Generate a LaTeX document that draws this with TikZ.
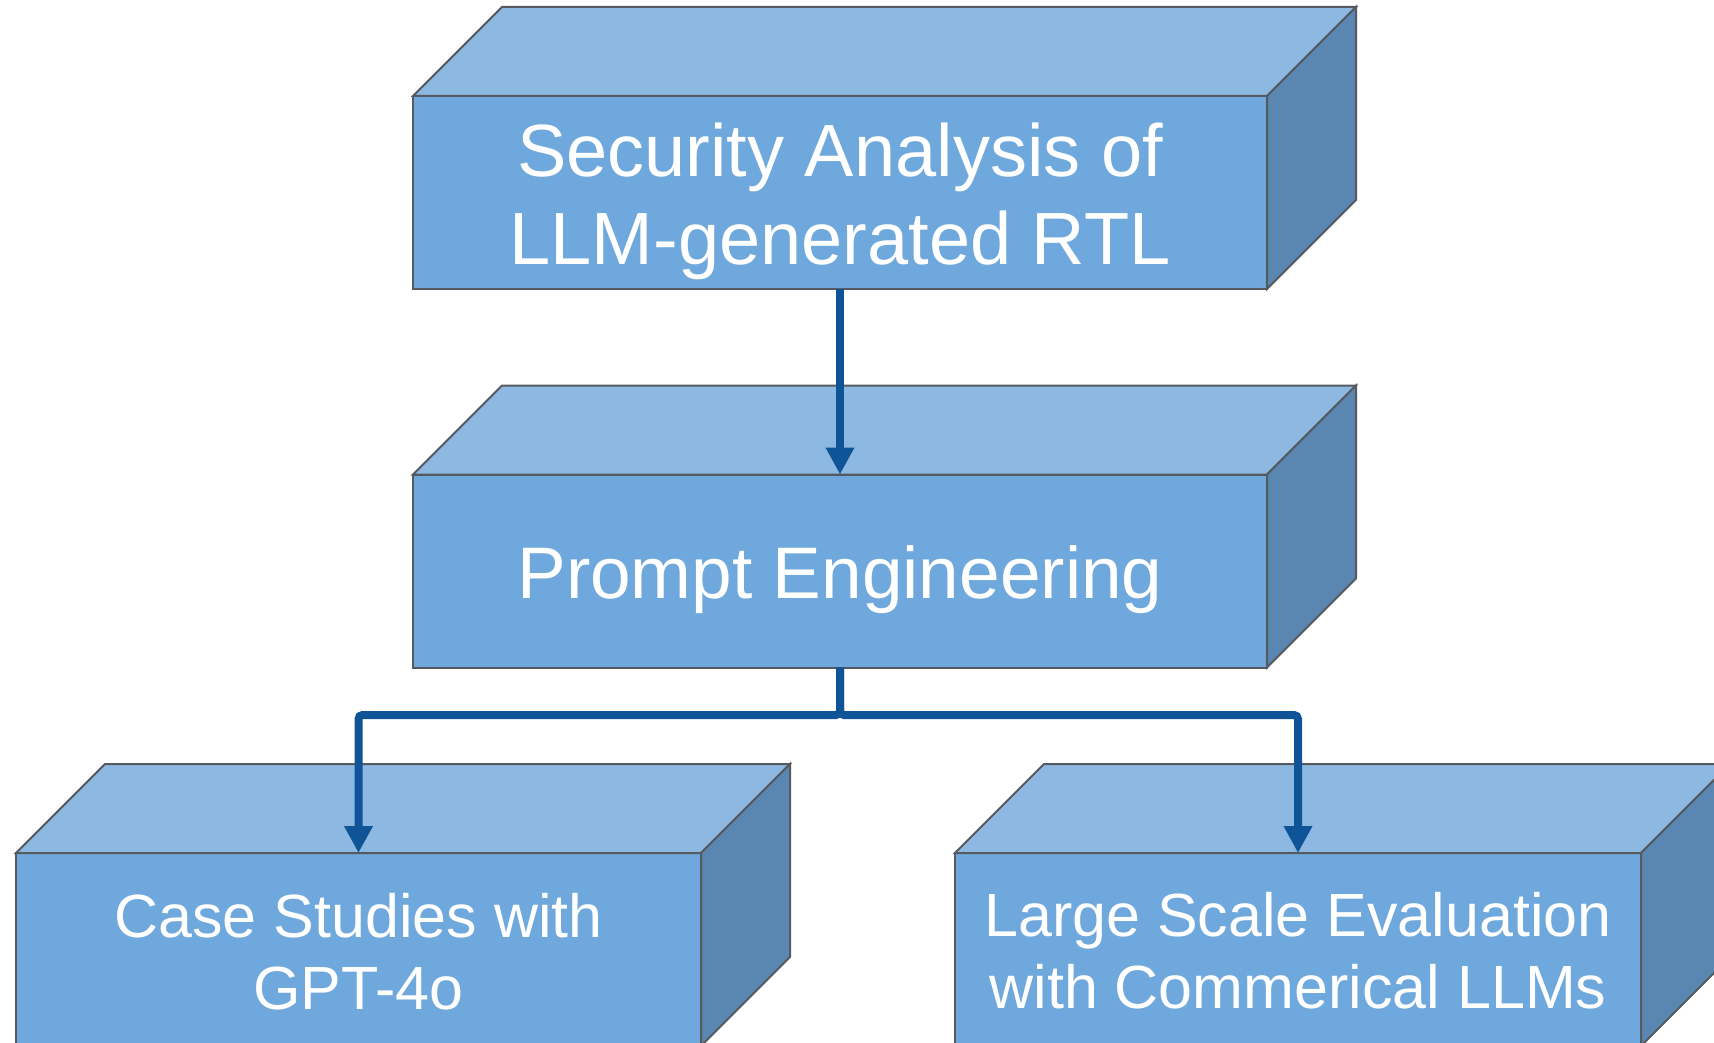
\documentclass[tikz,border=0pt]{standalone}
\usepackage{fontspec}
\setmainfont{Liberation Sans}
\usetikzlibrary{arrows.meta,calc}

\definecolor{frontface}{RGB}{111,168,220}
\definecolor{topface}{RGB}{141,184,226}
\definecolor{sideface}{RGB}{89,135,177}
\definecolor{edgegray}{RGB}{85,90,96}
\definecolor{linkblue}{RGB}{14,84,150}

\tikzset{
  blockfront/.style={draw=edgegray, fill=frontface, line width=2pt,
    minimum width=#1, minimum height=193pt, inner sep=0pt, outer sep=0pt},
  blocktop/.style={draw=edgegray, fill=topface, line width=2pt},
  blockside/.style={draw=edgegray, fill=sideface, line width=2pt},
  bigtext/.style={text=white, align=center, inner sep=0pt,
    font=\fontsize{74}{88}\selectfont},
  smalltext/.style={text=white, align=center, inner sep=0pt,
    font=\fontsize{61}{72}\selectfont},
  link/.style={draw=linkblue, line width=8pt, rounded corners=4pt,
    -{Triangle[width=27pt,length=27pt]}}
}

\begin{document}
\begin{tikzpicture}[x=1pt,y=-1pt]
  \useasboundingbox (0,0) rectangle (1714,1043);
  \clip (0,0) rectangle (1714,1043);

  % front faces of the four blocks
  \node[blockfront=854pt] (top) at (840,192.5) {};
  \node[blockfront=854pt] (mid) at (840,571) {};
  \node[blockfront=685pt] (bl)  at (358.5,949.5) {};
  \node[blockfront=686pt] (br)  at (1298,949.5) {};

  % top and side faces give each block its depth
  \foreach \b in {top,mid,bl,br}{
    \filldraw[blocktop] (\b.north west) -- ++(89,-89)
      -- ($(\b.north east)+(89,-89)$) -- (\b.north east) -- cycle;
    \filldraw[blockside] (\b.north east) -- ++(89,-89)
      -- ($(\b.south east)+(89,-89)$) -- (\b.south east) -- cycle;
  }

  % labels
  \node[bigtext] (topT) at ($(top.center)+(0,9)$) {Security Analysis of\\LLM-generated RTL};
  \node[bigtext, font=\fontsize{73}{86}\selectfont] (midT) at ($(mid.center)+(0,8.5)$) {Prompt Engineering};
  \node[smalltext] (blT) at ($(bl.center)+(0,2)$) {Case Studies with\\GPT-4o};
  \node[smalltext] (brT) at ($(br.center)+(0,1.5)$) {Large Scale Evaluation\\with Commerical LLMs};

  % connectors
  \coordinate (split) at ($(mid.south)+(0,47.5)$);
  \draw[link] (top.south) -- (mid.north);
  \draw[link] (mid.south) -- (split) -| (bl.north);
  \draw[link] (mid.south) -- (split) -| (br.north);
\end{tikzpicture}
\end{document}
